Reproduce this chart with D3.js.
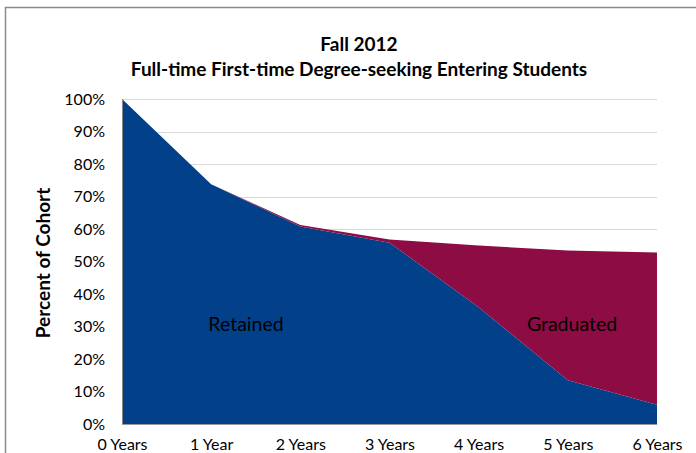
<!DOCTYPE html>
<html><head><meta charset="utf-8">
<script src="https://cdn.jsdelivr.net/npm/d3@7"></script>
<style>body{margin:0;background:#fff}svg{display:block}text{font-family:Lato,"Open Sans",sans-serif}</style>
</head><body><svg id="c" width="696" height="453"></svg>
<script>
const categories = ["0 Years","1 Year","2 Years","3 Years","4 Years","5 Years","6 Years"];
const retained = [100, 73.8, 60.8, 55.8, 35.9, 13.5, 5.9];
const graduated = [0, 0, 0.4, 1.0, 19.0, 39.9, 46.9];
const yTicks = [0,10,20,30,40,50,60,70,80,90,100];
const seriesNames = ["Retained","Graduated"];
const colors = ["#02418A","#8C0C43"];
const titleLines = ["Fall 2012","Full-time First-time Degree-seeking Entering Students"];
const yTitle = "Percent of Cohort";

const svg = d3.select("#c");
svg.append("path").attr("d","M5.5,453 V7.5 H696").attr("fill","none").attr("stroke","#8a8a8a").attr("stroke-width",1.5);

const x = d3.scalePoint().domain(categories).range([122,657]);
const y = d3.scaleLinear().domain([0,100]).range([424,99]);

svg.append("g").selectAll("line").data(yTicks.filter(d=>d>0)).join("line")
  .attr("x1",122).attr("x2",657).attr("y1",d=>Math.round(y(d))+0.5).attr("y2",d=>Math.round(y(d))+0.5)
  .attr("stroke","#d9d9d9").attr("stroke-width",1);

const rows = categories.map((c,i)=>({c, Retained: retained[i], Graduated: graduated[i]}));
const stack = d3.stack().keys(seriesNames)(rows);
const area = d3.area().x(d=>x(d.data.c)).y0(d=>y(d[0])).y1(d=>y(d[1]));
svg.append("g").selectAll("path").data(stack).join("path")
  .attr("d",area).attr("fill",(d,i)=>colors[i]);

const yAxis = svg.append("g").attr("transform","translate(122,0)")
  .call(d3.axisLeft(y).tickValues(yTicks).tickFormat(d=>d+"%").tickSize(0).tickPadding(17));
yAxis.select(".domain").attr("stroke","#888");
yAxis.selectAll("text").attr("font-size",16).attr("fill","#000");
const xAxis = svg.append("g").attr("transform","translate(0,424)")
  .call(d3.axisBottom(x).tickSize(0).tickPadding(15));
xAxis.select(".domain").attr("stroke","#999").attr("d","M122,0.5H657");
xAxis.selectAll("text").attr("font-size",16).attr("fill","#000");

svg.append("g").selectAll("text").data(titleLines).join("text")
  .attr("x",359).attr("y",(d,i)=>51+i*25).attr("text-anchor","middle")
  .attr("font-weight","bold").attr("font-size",19).attr("fill","#000").text(d=>d);
svg.append("text").attr("transform","translate(50,263) rotate(-90)").attr("text-anchor","middle")
  .attr("font-weight","bold").attr("font-size",19).attr("fill","#000").text(yTitle);

svg.append("text").attr("x",246).attr("y",331).attr("text-anchor","middle").attr("font-size",19.5).attr("fill","#000").text(seriesNames[0]);
svg.append("text").attr("x",572).attr("y",331).attr("text-anchor","middle").attr("font-size",19.5).attr("fill","#000").text(seriesNames[1]);
</script></body></html>
